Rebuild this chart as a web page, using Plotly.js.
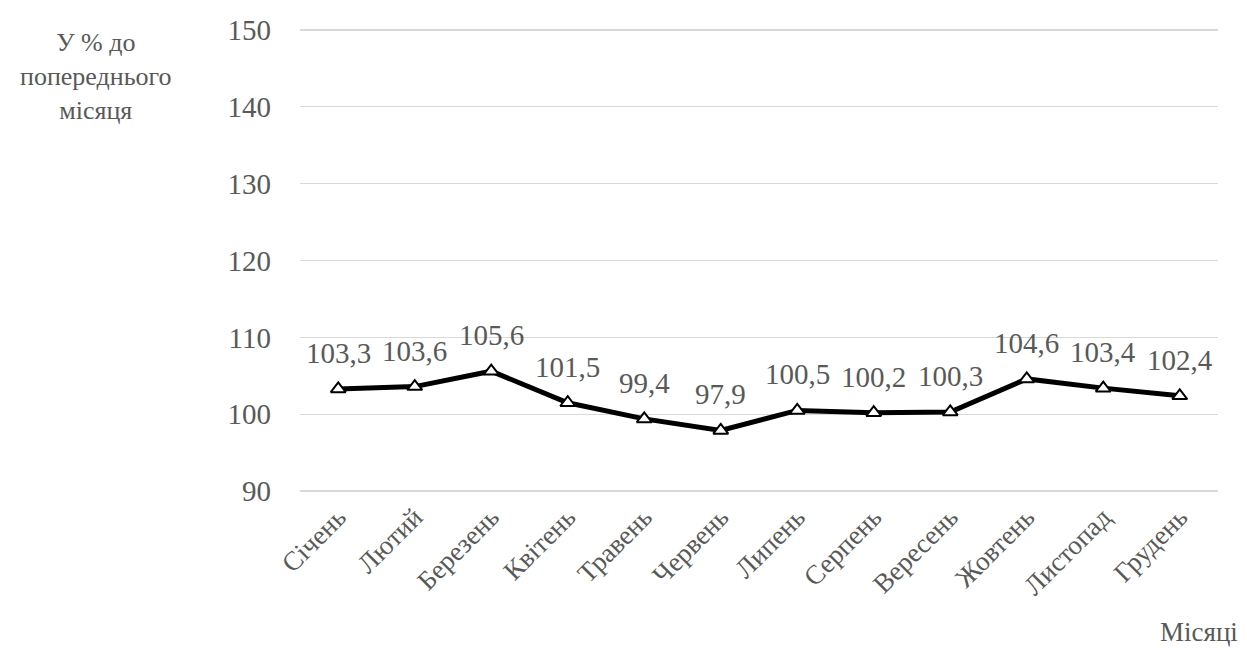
<!DOCTYPE html>
<html>
<head>
<meta charset="utf-8">
<script src="https://cdn.plot.ly/plotly-3.0.1.min.js"></script>
<style>
html,body{margin:0;padding:0;background:#fff;}
#chart{width:1247px;height:648px;}
</style>
</head>
<body>
<div id="chart"></div>
<script>
const months = ["Січень","Лютий","Березень","Квітень","Травень","Червень","Липень","Серпень","Вересень","Жовтень","Листопад","Грудень"];
const values = [103.3,103.6,105.6,101.5,99.4,97.9,100.5,100.2,100.3,104.6,103.4,102.4];
const yTicks = [90,100,110,120,130,140,150];
const yTitle = "У % до<br>попереднього<br>місяця";
const xTitle = "Місяці";

const fmt = v => v.toFixed(1).replace('.', ',');
const FONT = "Times New Roman";
const GREY = "#595959";

const trace = {
  x: months, y: values, type: "scatter", mode: "lines+markers",
  line: {color: "#000", width: 5},
  marker: {symbol: "triangle-up", size: 13, color: "#fff", line: {color: "#000", width: 2}},
  hoverinfo: "skip"
};

const annotations = values.map((v, i) => ({
  x: months[i], y: v, xref: "x", yref: "y", text: fmt(v), showarrow: false,
  yshift: 36, font: {family: FONT, size: 29, color: GREY}
}));
annotations.push({
  xref: "paper", yref: "paper", x: -0.222, y: 1.0, xanchor: "center", yanchor: "top",
  text: yTitle, showarrow: false, align: "center",
  font: {family: FONT, size: 26, color: GREY}
});
annotations.push({
  xref: "paper", yref: "paper", x: 1.024, y: -0.255, xanchor: "right", yanchor: "top",
  text: xTitle, showarrow: false, font: {family: FONT, size: 27, color: GREY}
});

const layout = {
  width: 1247, height: 648,
  font: {family: FONT, color: GREY},
  margin: {l: 300, r: 29, t: 26, b: 153},
  paper_bgcolor: "#fff", plot_bgcolor: "#fff",
  showlegend: false,
  xaxis: {
    type: "category", range: [-0.5, 11.5], showgrid: false, zeroline: false, showline: false,
    ticks: "", tickangle: -45, tickfont: {family: FONT, size: 27, color: GREY}
  },
  yaxis: {
    range: [89.5, 150.5], tickvals: yTicks, ticktext: yTicks.map(String),
    showgrid: true, gridcolor: "#d9d9d9", gridwidth: 1.5, zeroline: false, showline: false,
    ticks: "", ticklabelstandoff: 28, tickfont: {family: FONT, size: 29, color: GREY}
  },
  annotations: annotations
};

Plotly.newPlot("chart", [trace], layout, {displayModeBar: false, staticPlot: true});
</script>
</body>
</html>
